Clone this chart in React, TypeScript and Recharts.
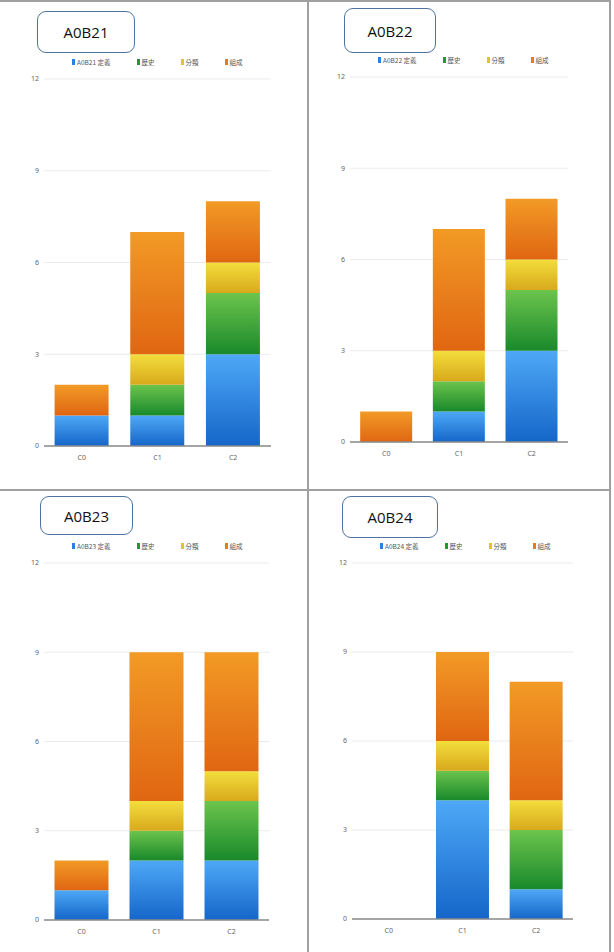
import React from "react";
import { BarChart, Bar, XAxis, YAxis, CartesianGrid } from "recharts";

// categories and axis ticks shared by all four panels
const CATEGORIES = ["C0", "C1", "C2"];
const Y_TICKS = [0, 3, 6, 9, 12];

// per-panel stacked counts, one value per category
const A0B21_DEF = [1, 1, 3];
const A0B21_HIST = [0, 1, 2];
const A0B21_CLASS = [0, 1, 1];
const A0B21_COMP = [1, 4, 2];

const A0B22_DEF = [0, 1, 3];
const A0B22_HIST = [0, 1, 2];
const A0B22_CLASS = [0, 1, 1];
const A0B22_COMP = [1, 4, 2];

const A0B23_DEF = [1, 2, 2];
const A0B23_HIST = [0, 1, 2];
const A0B23_CLASS = [0, 1, 1];
const A0B23_COMP = [1, 5, 4];

const A0B24_DEF = [0, 4, 1];
const A0B24_HIST = [0, 1, 2];
const A0B24_CLASS = [0, 1, 1];
const A0B24_COMP = [0, 3, 4];

const SERIES = [
  { key: "def", label: "定義", top: "#4ea8f6", bottom: "#1566c9", swatch: "#2a7fe0" },
  { key: "hist", label: "歷史", top: "#6cc44c", bottom: "#19892b", swatch: "#22992f" },
  { key: "cls", label: "分類", top: "#f3de3c", bottom: "#d8a91c", swatch: "#e2c428" },
  { key: "comp", label: "組成", top: "#f29a26", bottom: "#e06612", swatch: "#ea7a18" },
];

const buildRows = (def: number[], hist: number[], cls: number[], comp: number[]) =>
  CATEGORIES.map((name, i) => ({ name, def: def[i], hist: hist[i], cls: cls[i], comp: comp[i] }));

const PANELS = [
  { code: "A0B21", rows: buildRows(A0B21_DEF, A0B21_HIST, A0B21_CLASS, A0B21_COMP),
    plot: { left: 44, right: 271, top: 79, bottom: 446 }, box: { left: 37, top: 11, width: 98, height: 42 } },
  { code: "A0B22", rows: buildRows(A0B22_DEF, A0B22_HIST, A0B22_CLASS, A0B22_COMP),
    plot: { left: 350, right: 568, top: 77, bottom: 442 }, box: { left: 344, top: 8, width: 92, height: 45 } },
  { code: "A0B23", rows: buildRows(A0B23_DEF, A0B23_HIST, A0B23_CLASS, A0B23_COMP),
    plot: { left: 44, right: 269, top: 563, bottom: 920 }, box: { left: 40, top: 496, width: 93, height: 39 } },
  { code: "A0B24", rows: buildRows(A0B24_DEF, A0B24_HIST, A0B24_CLASS, A0B24_COMP),
    plot: { left: 352, right: 573, top: 563, bottom: 919 }, box: { left: 342, top: 496, width: 96, height: 42 } },
];

const M_LEFT = 34;
const Y_W = 10;
const M_TOP = 10;
const M_RIGHT = 10;
const X_H = 30;

const tickFont = { fontSize: 7, fill: "#666", fontFamily: "'Noto Sans', sans-serif" };

function Panel({ panel, idx }: { panel: any; idx: number }) {
  const { plot, box, code, rows } = panel;
  const w = plot.right - plot.left + M_LEFT + Y_W + M_RIGHT;
  const h = plot.bottom - plot.top + M_TOP + X_H;
  return (
    <>
      <div
        style={{
          position: "absolute",
          left: box.left,
          top: box.top,
          width: box.width,
          height: box.height,
          boxSizing: "border-box",
          border: "1.5px solid #4f73a0",
          borderRadius: 9,
          background: "#fff",
          display: "flex",
          alignItems: "center",
          justifyContent: "center",
          fontFamily: "'Open Sans', sans-serif",
          fontSize: 15,
          color: "#111",
        }}
      >
        {code}
      </div>

      {/* legend row */}
      <div
        style={{
          position: "absolute",
          left: plot.left + 28,
          top: plot.top - 22,
          height: 10,
          display: "flex",
          alignItems: "center",
          gap: 26,
          fontFamily: "'Noto Sans CJK TC', 'Noto Sans', sans-serif",
          fontSize: 6.5,
          color: "#555",
          whiteSpace: "nowrap",
        }}
      >
        {SERIES.map((s, i) => (
          <div key={s.key} style={{ display: "flex", alignItems: "center", gap: 2 }}>
            <span style={{ display: "inline-block", width: 3, height: 6, background: s.swatch }} />
            <span>{i === 0 ? `${code} ${s.label}` : s.label}</span>
          </div>
        ))}
      </div>

      <div style={{ position: "absolute", left: plot.left - M_LEFT - Y_W, top: plot.top - M_TOP }}>
        <BarChart
          width={w}
          height={h}
          data={rows}
          margin={{ top: M_TOP, right: M_RIGHT, left: M_LEFT, bottom: 0 }}
          barCategoryGap="14%"
        >
          <defs>
            {SERIES.map((s) => (
              <linearGradient key={s.key} id={`g${idx}-${s.key}`} x1="0" y1="0" x2="0" y2="1">
                <stop offset="0%" stopColor={s.top} />
                <stop offset="100%" stopColor={s.bottom} />
              </linearGradient>
            ))}
          </defs>
          <CartesianGrid vertical={false} stroke="#ebebeb" />
          <XAxis
            dataKey="name"
            height={X_H}
            axisLine={{ stroke: "#8a8a8a", strokeWidth: 1.5 }}
            tickLine={false}
            tickSize={6}
            tickMargin={3}
            tick={tickFont}
          />
          <YAxis
            width={Y_W}
            domain={[0, 12]}
            ticks={Y_TICKS}
            axisLine={false}
            tickLine={false}
            tickSize={3}
            tickMargin={2}
            tick={tickFont}
          />
          {SERIES.map((s) => (
            <Bar key={s.key} dataKey={s.key} stackId="a" fill={`url(#g${idx}-${s.key})`} isAnimationActive={false} />
          ))}
        </BarChart>
      </div>
    </>
  );
}

export default function App() {
  return (
    <div style={{ position: "absolute", left: 0, top: 0, width: 614, height: 952, background: "#fff", overflow: "hidden" }}>
      {/* table borders */}
      <div style={{ position: "absolute", left: 0, top: 0, width: 611, height: 2, background: "#a0a0a0" }} />
      <div style={{ position: "absolute", left: 0, top: 489, width: 611, height: 2, background: "#a0a0a0" }} />
      <div style={{ position: "absolute", left: 307, top: 0, width: 2, height: 952, background: "#a0a0a0" }} />
      <div style={{ position: "absolute", left: 609, top: 0, width: 2, height: 952, background: "#a0a0a0" }} />
      {PANELS.map((p, i) => (
        <Panel key={p.code} panel={p} idx={i} />
      ))}
    </div>
  );
}
